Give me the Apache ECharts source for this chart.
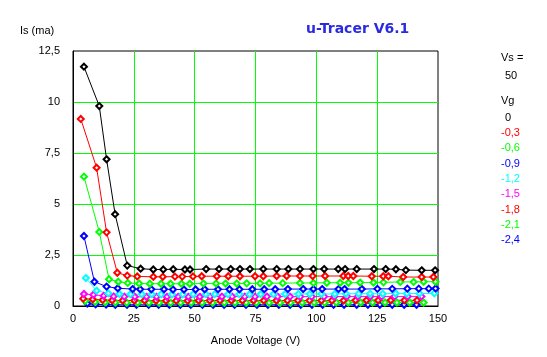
<!DOCTYPE html>
<html><head><meta charset="utf-8">
<script src="https://cdn.jsdelivr.net/npm/echarts@6/dist/echarts.min.js"></script>
<style>html,body{margin:0;padding:0;background:#fff}#c{width:547px;height:357px}</style>
</head><body><div id="c"></div>
<script>
const titleText = 'u-Tracer V6.1';
const xName = 'Anode Voltage (V)';
const yName = 'Is (ma)';
const vsLabel = 'Vs =';
const vsValue = '50';
const vgHeader = 'Vg';
const vgLabels = ['0','-0,3','-0,6','-0,9','-1,2','-1,5','-1,8','-2,1','-2,4'];

const va0 = [4.5,10.8,13.8,17.3,22.3,27.8,33.0,37.1,41.2,46.0,48.1,54.7,60.0,64.8,68.6,72.7,78.2,83.7,88.5,93.3,98.8,103.2,109.0,111.8,116.6,123.7,128.5,132.7,136.8,143.3,148.8];
const ia0 = [11.73,9.80,7.19,4.50,1.98,1.83,1.79,1.79,1.80,1.79,1.79,1.81,1.81,1.81,1.81,1.81,1.81,1.81,1.81,1.81,1.81,1.81,1.81,1.81,1.81,1.81,1.81,1.80,1.76,1.75,1.75];
const va1 = [3.2,9.7,13.8,18.2,22.3,26.4,33.0,36.9,41.9,44.9,49.3,52.9,59.1,63.8,68.6,74.8,78.2,83.7,87.8,93.3,98.5,103.6,111.1,113.1,115.2,122.8,127.5,129.6,135.7,143.3,148.1];
const ia1 = [9.17,6.78,3.61,1.63,1.49,1.45,1.43,1.43,1.44,1.44,1.45,1.46,1.46,1.46,1.46,1.46,1.46,1.47,1.47,1.47,1.47,1.47,1.47,1.47,1.47,1.46,1.46,1.46,1.42,1.42,1.42];
const va2 = [4.5,10.8,14.8,18.6,22.5,27.2,31.6,36.2,40.1,44.6,48.0,53.6,58.8,62.7,67.3,71.4,76.9,80.6,86.2,93.3,98.8,104.3,109.8,113.2,118.0,123.5,127.6,134.5,140.0,144.1,149.0];
const ia2 = [6.34,3.63,1.31,1.19,1.13,1.10,1.09,1.09,1.09,1.09,1.09,1.10,1.10,1.10,1.10,1.11,1.11,1.12,1.12,1.13,1.13,1.14,1.14,1.14,1.15,1.15,1.16,1.18,1.18,1.19,1.19];
const va3 = [4.5,8.8,13.8,18.4,24.5,27.6,32.2,37.4,41.1,45.6,50.4,54.1,59.6,64.3,68.4,73.7,78.6,83.1,88.3,94.6,98.8,102.4,109.1,111.6,118.7,125.1,131.2,137.4,142.1,146.2,149.0];
const ia3 = [3.43,1.19,0.95,0.87,0.83,0.82,0.82,0.82,0.81,0.81,0.81,0.82,0.82,0.82,0.82,0.82,0.82,0.82,0.83,0.83,0.83,0.83,0.83,0.83,0.83,0.84,0.84,0.85,0.85,0.85,0.86];
const va4 = [5.3,9.7,14.5,19.1,23.6,28.3,32.4,36.2,40.7,45.1,49.4,54.6,58.3,63.7,68.4,72.6,77.1,82.4,87.2,92.6,97.3,102.1,107.6,112.2,117.4,122.1,127.3,132.6,137.2,142.4,148.5];
const ia4 = [1.37,0.75,0.62,0.59,0.58,0.58,0.58,0.57,0.57,0.57,0.58,0.58,0.58,0.58,0.58,0.58,0.58,0.58,0.59,0.59,0.59,0.59,0.59,0.60,0.60,0.60,0.60,0.61,0.61,0.61,0.62];
const va5 = [4.5,8.4,12.6,16.7,21.1,25.4,30.2,34.3,38.6,43.2,47.4,52.1,56.3,61.2,65.4,70.6,74.8,79.7,84.1,89.2,93.4,98.1,103.2,107.4,112.6,117.1,122.2,126.8,132.1,137.6,143.2];
const ia5 = [0.59,0.55,0.50,0.47,0.46,0.45,0.45,0.45,0.45,0.45,0.45,0.45,0.46,0.46,0.46,0.46,0.46,0.46,0.46,0.46,0.46,0.46,0.46,0.46,0.47,0.47,0.47,0.47,0.47,0.47,0.47];
const va6 = [4.2,8.1,12.2,16.1,20.4,25.2,29.4,34.1,38.2,42.4,47.1,51.6,56.2,60.4,65.1,69.6,74.2,78.4,83.6,88.1,92.4,97.2,102.1,106.4,111.2,116.1,120.6,125.4,130.6,136.2,141.4];
const ia6 = [0.36,0.33,0.30,0.28,0.27,0.27,0.27,0.26,0.26,0.26,0.26,0.27,0.27,0.27,0.27,0.27,0.27,0.27,0.27,0.27,0.27,0.27,0.27,0.27,0.27,0.28,0.28,0.28,0.28,0.28,0.28];
const va7 = [5.0,9.1,13.2,17.4,22.1,26.6,31.2,35.4,40.1,44.2,48.6,53.1,57.4,62.2,66.6,71.2,75.4,80.6,85.1,89.4,94.2,99.1,103.4,108.2,113.1,118.2,123.1,128.2,133.1,138.4,144.1];
const ia7 = [0.25,0.20,0.18,0.17,0.16,0.16,0.16,0.16,0.16,0.16,0.16,0.16,0.16,0.16,0.16,0.16,0.16,0.16,0.16,0.16,0.16,0.16,0.16,0.17,0.17,0.17,0.17,0.17,0.17,0.17,0.17];
const va8 = [5.9,9.3,13.6,17.4,22.2,26.1,31.1,35.2,39.6,44.1,48.4,53.2,57.6,62.1,66.4,71.1,75.6,80.1,84.6,89.2,93.6,98.2,102.6,107.1,111.4,116.6,121.2,126.1,131.2,136.1,141.2];
const ia8 = [0.12,0.08,0.07,0.06,0.06,0.06,0.06,0.06,0.06,0.06,0.06,0.06,0.06,0.06,0.06,0.06,0.06,0.06,0.06,0.06,0.06,0.06,0.06,0.06,0.06,0.06,0.06,0.06,0.06,0.06,0.06];

const voltSets = [va0,va1,va2,va3,va4,va5,va6,va7,va8];
const currSets = [ia0,ia1,ia2,ia3,ia4,ia5,ia6,ia7,ia8];
const colors = ['#000000','#ff0000','#00ff00','#0000ff','#00ffff','#ff00ff','#ff0000','#00ff00','#0000ff'];

const font = 'Liberation Sans';
const series = [];
for (let k = voltSets.length - 1; k >= 0; k--) {
  series.push({
    name: vgLabels[k], type: 'line', animation: false,
    data: voltSets[k].map((v, i) => [v, currSets[k][i]]),
    symbol: 'emptyDiamond', symbolSize: 6,
    lineStyle: { color: colors[k], width: 1 },
    itemStyle: { color: colors[k], borderColor: colors[k], borderWidth: 1 },
    emphasis: { disabled: true }
  });
}

const graphics = [
  { type: 'text', left: 306, top: 22, style: { text: titleText, fill: '#2a2ae0', font: 'bold 14px "DejaVu Sans"' } },
  { type: 'text', left: 20, top: 25, style: { text: yName, fill: '#000', font: '11px "' + font + '"' } },
  { type: 'text', left: 501, top: 52, style: { text: vsLabel, fill: '#000', font: '11px "' + font + '"' } },
  { type: 'text', left: 505, top: 70, style: { text: vsValue, fill: '#000', font: '11px "' + font + '"' } },
  { type: 'text', left: 501, top: 95, style: { text: vgHeader, fill: '#000', font: '11px "' + font + '"' } }
];
vgLabels.forEach((t, k) => {
  graphics.push({ type: 'text', left: t === '0' ? 505 : 501, top: 112 + k * 15.35,
    style: { text: t, fill: colors[k], font: '11px "' + font + '"' } });
});

const chart = echarts.init(document.getElementById('c'), null, { renderer: 'canvas' });
chart.setOption({
  backgroundColor: '#ffffff',
  animation: false,
  grid: { left: 73, top: 51, width: 365, height: 255, show: true, borderColor: '#000', borderWidth: 1, backgroundColor: 'transparent' },
  xAxis: {
    type: 'value', min: 0, max: 150, interval: 25,
    name: xName, nameLocation: 'middle', nameGap: 29,
    nameTextStyle: { color: '#000', fontFamily: font, fontSize: 11 },
    axisLine: { show: true, onZero: false, lineStyle: { color: '#000', width: 1 } },
    axisTick: { show: false },
    axisLabel: { color: '#000', fontFamily: font, fontSize: 11, margin: 7 },
    splitLine: { show: true, showMinLine: false, showMaxLine: false, lineStyle: { color: '#00ff00', width: 1 } }
  },
  yAxis: {
    type: 'value', min: 0, max: 12.5, interval: 2.5,
    axisLine: { show: true, onZero: false, lineStyle: { color: '#000', width: 1 } },
    axisTick: { show: false },
    axisLabel: { color: '#000', fontFamily: font, fontSize: 11, margin: 13,
      formatter: v => String(v).replace('.', ',') },
    splitLine: { show: true, showMinLine: false, showMaxLine: false, lineStyle: { color: '#00ff00', width: 1 } }
  },
  graphic: graphics,
  series: series
});
</script>
</body></html>
